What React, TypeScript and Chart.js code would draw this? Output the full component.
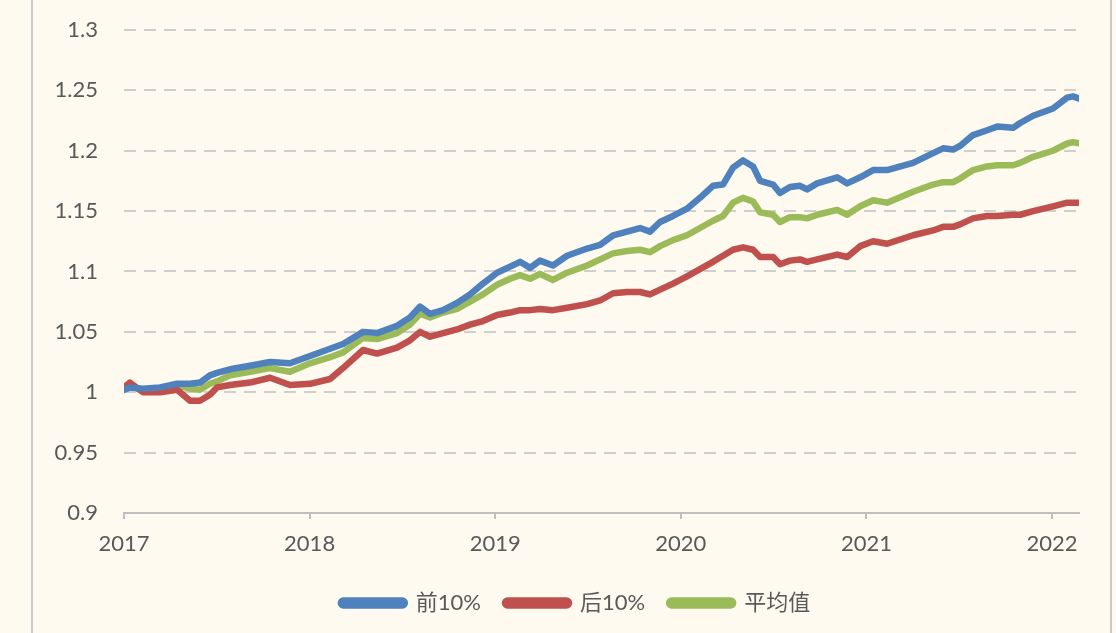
import React, { useEffect, useRef } from "react";
import { Chart, registerables } from "chart.js";

Chart.register(...registerables);

// decimal-year positions of the sampled points
const years = [
  2017.0, 2017.032, 2017.102, 2017.194, 2017.286, 2017.356, 2017.409, 2017.463, 2017.501, 2017.571,
  2017.679, 2017.787, 2017.894, 2018.002, 2018.11, 2018.18, 2018.288, 2018.363, 2018.471, 2018.541,
  2018.595, 2018.649, 2018.719, 2018.794, 2018.864, 2018.934, 2019.01, 2019.08, 2019.134, 2019.188,
  2019.241, 2019.311, 2019.387, 2019.495, 2019.565, 2019.635, 2019.71, 2019.78, 2019.834, 2019.888,
  2019.958, 2020.033, 2020.103, 2020.173, 2020.227, 2020.281, 2020.335, 2020.389, 2020.427, 2020.497,
  2020.534, 2020.588, 2020.642, 2020.68, 2020.734, 2020.842, 2020.896, 2020.966, 2021.036, 2021.111,
  2021.251, 2021.359, 2021.413, 2021.467, 2021.504, 2021.574, 2021.65, 2021.704, 2021.79, 2021.828,
  2021.898, 2022.005, 2022.081, 2022.113, 2022.151,
];

const top10 = [
  1.002, 1.004, 1.003, 1.004, 1.007, 1.007, 1.008, 1.014, 1.016, 1.019,
  1.022, 1.025, 1.024, 1.03, 1.036, 1.04, 1.05, 1.049, 1.055, 1.062,
  1.071, 1.065, 1.068, 1.074, 1.081, 1.09, 1.099, 1.104, 1.108, 1.103,
  1.109, 1.105, 1.113, 1.119, 1.122, 1.13, 1.133, 1.136, 1.133, 1.141,
  1.146, 1.152, 1.161, 1.171, 1.172, 1.186, 1.192, 1.187, 1.175, 1.172,
  1.165, 1.17, 1.171, 1.168, 1.173, 1.178, 1.173, 1.178, 1.184, 1.184,
  1.19, 1.198, 1.202, 1.201, 1.204, 1.213, 1.217, 1.22, 1.219, 1.223,
  1.229, 1.235, 1.244, 1.245, 1.243,
];

const bottom10 = [
  1.004, 1.008, 1.0, 1.0, 1.002, 0.993, 0.993, 0.998, 1.004, 1.006,
  1.008, 1.012, 1.006, 1.007, 1.011, 1.02, 1.035, 1.032, 1.037, 1.043,
  1.05, 1.046, 1.049, 1.052, 1.056, 1.059, 1.064, 1.066, 1.068, 1.068,
  1.069, 1.068, 1.07, 1.073, 1.076, 1.082, 1.083, 1.083, 1.081, 1.085,
  1.09, 1.096, 1.102, 1.108, 1.113, 1.118, 1.12, 1.118, 1.112, 1.112,
  1.106, 1.109, 1.11, 1.108, 1.11, 1.114, 1.112, 1.121, 1.125, 1.123,
  1.13, 1.134, 1.137, 1.137, 1.139, 1.144, 1.146, 1.146, 1.147, 1.147,
  1.15, 1.154, 1.157, 1.157, 1.157,
];

const average = [
  1.002, 1.006, 1.001, 1.003, 1.006, 1.003, 1.002, 1.007, 1.009, 1.014,
  1.017, 1.02, 1.017, 1.024, 1.029, 1.033, 1.045, 1.044, 1.049, 1.056,
  1.065, 1.062, 1.066, 1.069, 1.075, 1.081, 1.089, 1.094, 1.097, 1.094,
  1.098, 1.093, 1.099, 1.105, 1.11, 1.115, 1.117, 1.118, 1.116, 1.121,
  1.126, 1.13, 1.136, 1.142, 1.146, 1.157, 1.161, 1.158, 1.149, 1.147,
  1.141, 1.145, 1.145, 1.144, 1.147, 1.151, 1.147, 1.154, 1.159, 1.157,
  1.166, 1.172, 1.174, 1.174, 1.177, 1.184, 1.187, 1.188, 1.188, 1.19,
  1.195, 1.2, 1.206, 1.207, 1.206,
];

const seriesNames = ["前10%", "后10%", "平均值"];
const seriesColors = ["#4F81BD", "#C0504D", "#9BBB59"];
const xMin = 2017;
const xMax = 2022.145;
const yMin = 0.9;
const yMax = 1.3;
const yStep = 0.05;

const BG = "#FEFAF0";

const legendShift = {
  id: "legendShift",
  afterLayout(chart: any) {
    const lg = chart.legend;
    if (lg) {
      lg.left += 16;
      lg.right += 16;
    }
  },
};

export default function App() {
  const ref = useRef<HTMLCanvasElement | null>(null);

  useEffect(() => {
    const canvas = ref.current;
    if (!canvas) return;
    const allSeries = [top10, bottom10, average];
    const chart = new Chart(canvas, {
      type: "line",
      data: {
        datasets: allSeries.map((s, i) => ({
          label: seriesNames[i],
          data: years.map((x, j) => ({ x, y: s[j] })),
          borderColor: seriesColors[i],
          backgroundColor: seriesColors[i],
          borderWidth: 6.5,
          pointRadius: 0,
          tension: 0,
          borderJoinStyle: "round" as const,
          borderCapStyle: "round" as const,
        })),
      },
      plugins: [legendShift],
      options: {
        responsive: false,
        animation: false,
        devicePixelRatio: 1,
        layout: { padding: { left: 40, right: 37, top: 30, bottom: 9 } },
        plugins: {
          tooltip: { enabled: false },
          legend: {
            position: "bottom",
            labels: {
              boxWidth: 64,
              boxHeight: 5,
              useBorderRadius: true,
              borderRadius: 2.5,
              padding: 24,
              color: "#595959",
              font: { family: "Lato, 'Noto Sans CJK SC'", size: 22 },
            },
          },
        },
        scales: {
          x: {
            type: "linear",
            min: xMin,
            max: xMax,
            afterFit: (s: any) => {
              s.height = 55;
            },
            ticks: {
              stepSize: 1,
              includeBounds: false,
              padding: 12,
              color: "#595959",
              font: { family: "Lato", size: 22 },
              maxRotation: 0,
              callback: (v: any) => String(Math.round(Number(v))),
            },
            grid: {
              drawOnChartArea: false,
              drawTicks: true,
              tickLength: 6,
              color: "#BFBFBF",
              lineWidth: 2,
            },
            border: { display: true, color: "#BFBFBF", width: 2 },
          },
          y: {
            type: "linear",
            min: yMin,
            max: yMax,
            afterFit: (s: any) => {
              s.width = 84;
              s.paddingTop = 0;
              s.paddingBottom = 0;
            },
            ticks: {
              stepSize: yStep,
              padding: 26,
              color: "#595959",
              font: { family: "Lato", size: 22 },
              callback: (v: any) => String(parseFloat(Number(v).toFixed(2))),
            },
            grid: {
              drawTicks: false,
              lineWidth: 2,
              color: (ctx: any) =>
                ctx.tick && ctx.tick.value < yMin + 0.001 ? "rgba(0,0,0,0)" : "#CFCFCF",
            },
            border: { display: false, dash: [12, 8] },
          },
        },
      },
    });
    return () => chart.destroy();
  }, []);

  return (
    <div
      style={{
        position: "fixed",
        left: 0,
        top: 0,
        width: 1116,
        height: 633,
        background: BG,
        overflow: "hidden",
      }}
    >
      <div
        style={{
          position: "absolute",
          left: 31,
          top: 0,
          width: 2,
          height: 633,
          background: "#C8C8C8",
        }}
      />
      <div
        style={{
          position: "absolute",
          left: 1110,
          top: 0,
          width: 2,
          height: 633,
          background: "#C8C8C8",
        }}
      />
      <canvas
        ref={ref}
        width={1116}
        height={633}
        style={{ position: "absolute", left: 0, top: 0, width: 1116, height: 633 }}
      />
    </div>
  );
}
